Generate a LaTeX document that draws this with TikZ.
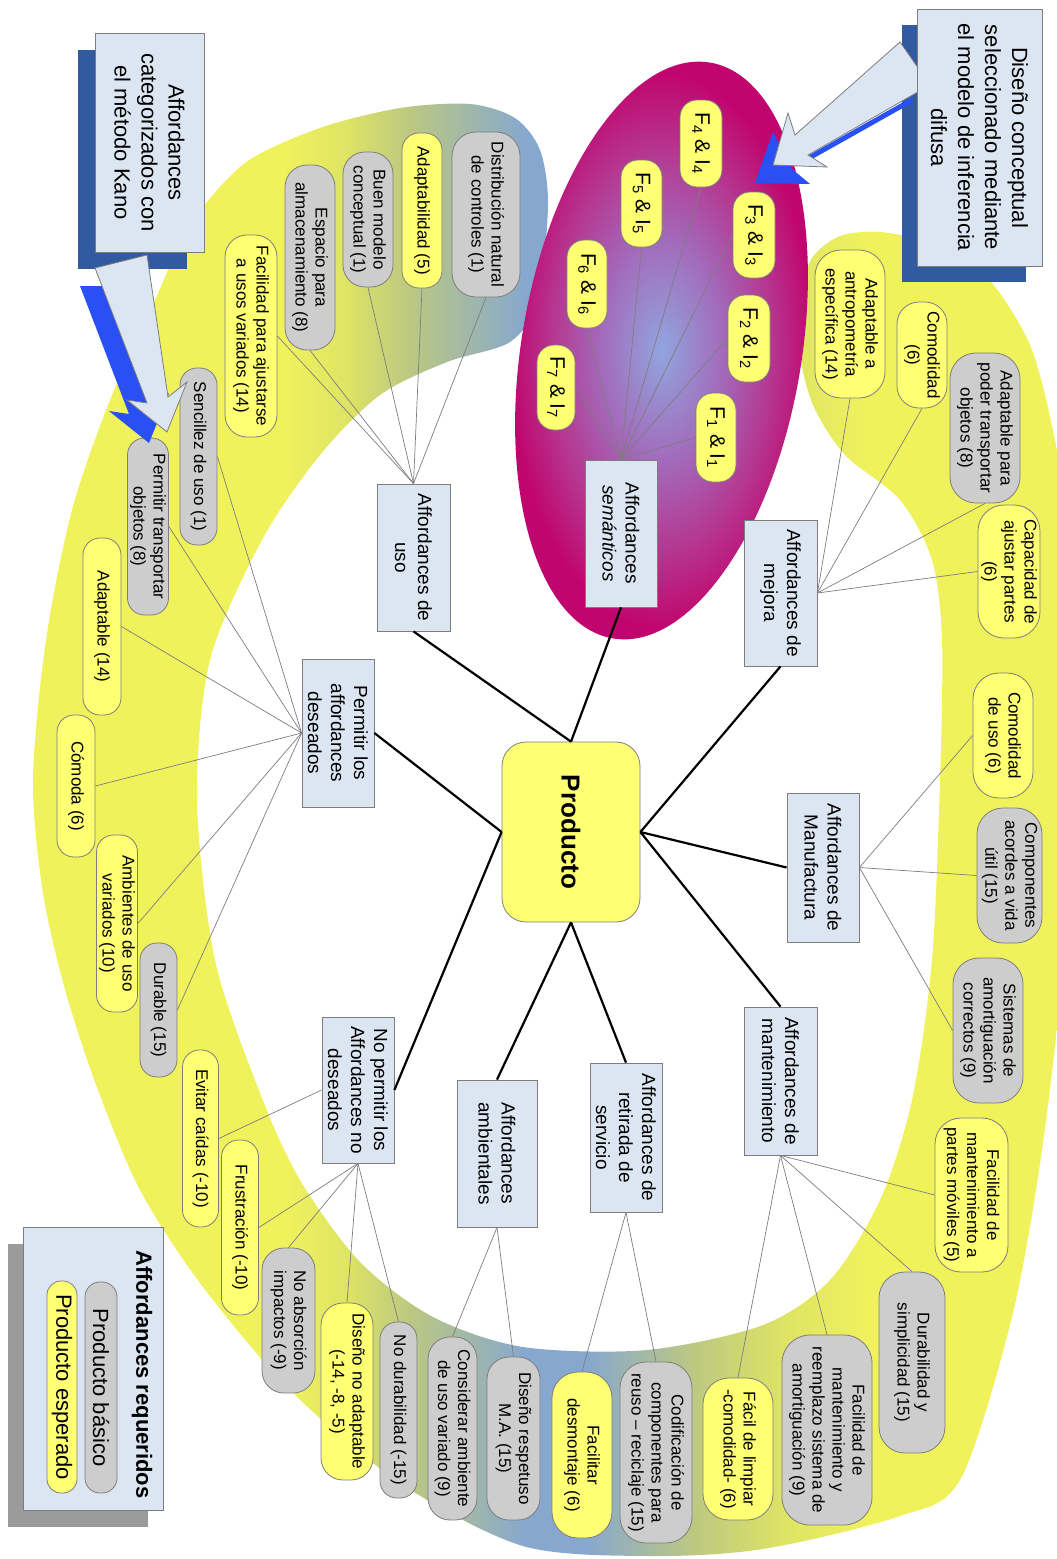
\documentclass[tikz,border=0pt]{standalone}
\usepackage{fontspec}
\setmainfont{Liberation Sans}
\usepackage{tikz}
\usetikzlibrary{calc}

\definecolor{bandY}{RGB}{240,242,92}
\definecolor{bandYG}{RGB}{222,228,100}
\definecolor{bandG}{RGB}{188,200,130}
\definecolor{bandB}{RGB}{135,168,206}
\definecolor{semA}{RGB}{145,165,222}
\definecolor{semB}{RGB}{162,108,188}
\definecolor{semC}{RGB}{182,52,142}
\definecolor{semD}{RGB}{192,6,110}
\definecolor{boxB}{RGB}{220,230,242}
\definecolor{pillY}{RGB}{255,255,115}
\definecolor{pillG}{RGB}{205,205,205}
\definecolor{edgeG}{RGB}{125,125,125}
\definecolor{shadowB}{RGB}{50,90,160}
\definecolor{arrowB}{RGB}{40,80,245}
\definecolor{shadowG}{RGB}{155,155,155}

\pgfdeclarehorizontalshading{bandshade}{100bp}{color(0bp)=(bandY); color(37bp)=(bandY); color(40bp)=(bandYG); color(43bp)=(bandG); color(48.5bp)=(bandB); color(51.5bp)=(bandB); color(56.5bp)=(bandG); color(61bp)=(bandYG); color(65bp)=(bandY); color(100bp)=(bandY)}
\pgfdeclareradialshading{semglow}{\pgfpoint{0bp}{0bp}}{color(0bp)=(semA); color(9bp)=(semB); color(17bp)=(semC); color(23bp)=(semD); color(50bp)=(semD)}

\tikzset{
  leaf/.style={rotate=-90, draw=edgeG, line width=0.8pt, align=center, inner sep=1pt, font=\fontsize{17}{20}\selectfont},
  yleaf/.style={leaf, fill=pillY, rounded corners=#1}, yleaf/.default=17pt,
  gleaf/.style={leaf, fill=pillG, rounded corners=#1}, gleaf/.default=17pt,
  fi/.style={font=\fontsize{21}{24}\selectfont},
  sz/.style 2 args={minimum width=#1pt, minimum height=#2pt},
  cat/.style={rotate=-90, draw=edgeG, fill=boxB, line width=0.8pt, align=center, inner sep=1pt, font=\fontsize{19}{23}\selectfont},
  note/.style={rotate=-90, draw=edgeG, fill=boxB, line width=0.8pt, align=center, inner sep=1pt, font=\fontsize{22}{27}\selectfont},
  hub/.style={line width=2.2pt, black},
  twig/.style={line width=0.7pt, draw=edgeG},
}

\begin{document}
\begin{tikzpicture}[x=1pt, y=-1pt]
\useasboundingbox (0,0) rectangle (1057,1559);

\begin{scope}
\clip (0,0) rectangle (1057,1559);
\shade[shading=bandshade] plot[smooth cycle] coordinates {
  (548,205) (540,150) (515,118) (470,104) (400,108) (320,128) (245,163) (190,225)
  (155,300) (110,400) (72,510) (46,640) (33,780) (43,893) (66,993) (98,1090)
  (140,1190) (200,1283) (290,1390) (400,1483) (523,1546) (650,1556) (763,1549)
  (897,1517) (960,1480) (1012,1317) (1042,1150) (1065,950) (1078,750) (1075,560)
  (1055,440) (1030,345) (985,275) (930,243) (880,232) (840,236) (812,258) (799,300)
  (799,350) (813,405) (845,455) (900,500) (932,560) (942,640) (940,780) (932,960)
  (912,1100) (880,1200) (830,1280) (763,1325) (647,1350) (523,1347) (433,1317)
  (360,1262) (300,1180) (260,1093) (215,960) (197,800) (210,660) (262,540)
  (320,455) (380,395) (447,362) (510,342) (538,300)};
\end{scope}
\shade[shading=semglow, rotate around={-9.6:(661.5,350.5)}] (661.5,350.5) ellipse [x radius=140, y radius=292];

\node[rotate=-90, draw=edgeG, fill=pillY, line width=0.8pt, rounded corners=24pt, sz={180}{138}, font=\fontsize{26}{30}\selectfont\bfseries] (prod) at (571,832) {Producto};

\node[cat, sz={147}{73}] (uso) at (413.5,557.5) {Affordances de\\uso};
\node[cat, sz={147}{72}] (sem) at (621,533.5) {Affordances\\\textit{semánticos}};
\node[cat, sz={146}{73}] (mejora) at (780.5,593) {Affordances de\\mejora};
\node[cat, sz={149}{72}] (manuf) at (823,867.5) {Affordances de\\Manufactura};
\node[cat, sz={148}{73}] (mant) at (780.5,1081) {Affordances de\\mantenimiento};
\node[cat, sz={149}{72}] (retiro) at (626,1137.5) {Affordances de\\retirada de\\servicio};
\node[cat, sz={147}{80}] (amb) at (497,1153.5) {Affordances\\ambientales};
\node[cat, sz={146}{72}] (noperm) at (358,1090) {No permitir los\\Affordances no\\deseados};
\node[cat, sz={148}{72}] (perm) at (338,733) {Permitir los\\affordances\\deseados};

\node[gleaf=24pt, sz={165}{68}] (dist) at (486,214.5) {Distribución natural\\de controles (1)};
\node[yleaf, sz={155}{40}] (adapt5) at (422,210.5) {Adaptabilidad (5)};
\node[gleaf=22pt, sz={135}{50}] (buen) at (368,219.5) {Buen modelo\\conceptual (1)};
\node[gleaf=22pt, sz={185}{50}] (espacio) at (310,257.5) {Espacio para\\almacenamiento (8)};
\node[yleaf=22pt, sz={202}{52}] (ajuste) at (251,336) {Facilidad para ajustarse\\a usos variados (14)};

\node[gleaf, sz={177}{37}] (sencillez) at (198.5,456.5) {Sencillez de uso (1)};
\node[gleaf, sz={177}{41}] (transp) at (148,526.5) {Permitir transportar\\objetos (8)};
\node[yleaf, sz={177}{38}] (adapt14) at (102,626.5) {Adaptable (14)};
\node[yleaf, sz={142}{38}] (comoda) at (76,786) {Cómoda (6)};
\node[yleaf, sz={177}{41}] (ambientes) at (117,923.5) {Ambientes de uso\\variados (10)};
\node[gleaf, sz={134}{37}] (durable) at (158.5,1010) {Durable (15)};

\node[yleaf, sz={177}{36}] (evitar) at (200.5,1138.5) {Evitar caídas (-10)};
\node[yleaf, sz={175}{37}] (frust) at (240,1227.5) {Frustración (-10)};
\node[gleaf=22pt, sz={145}{53}] (absorc) at (288.5,1320.5) {No absorción\\impactos (-9)};
\node[yleaf=22pt, sz={177}{52}] (noadapt) at (347,1391.5) {Diseño no adaptable\\(-14, -8, -5)};
\node[gleaf, sz={176}{37}] (nodurab) at (398.5,1410) {No durabilidad (-15)};

\node[gleaf=22pt, sz={183}{49}] (consid) at (452.5,1428.5) {Considerar ambiente\\de uso variado (9)};
\node[gleaf=22pt, sz={163}{53}] (respet) at (513.5,1438.5) {Diseño respetuso\\M.A. (15)};

\node[yleaf=26pt, sz={166}{60}] (desmont) at (582,1455) {Facilitar\\desmontaje (6)};
\node[gleaf=26pt, sz={181}{72}] (codif) at (656,1452.5) {Codificación de\\componentes para\\reuso -- reciclaje (15)};

\node[yleaf=26pt, sz={142}{70}] (limpiar) at (738,1449) {Fácil de limpiar\\-comodidad- (6)};
\node[gleaf=28pt, sz={190}{90}] (reempl) at (827,1430) {Facilidad de\\mantenimiento y\\reemplazo sistema de\\amortiguación (9)};
\node[gleaf=26pt, sz={181}{66}] (simplic) at (912,1362.5) {Durabilidad y\\simplicidad (15)};
\node[yleaf=26pt, sz={154}{73}] (moviles) at (971.5,1195) {Facilidad de\\mantenimiento a\\partes móviles (5)};

\node[yleaf=26pt, sz={125}{60}] (comuso) at (1003,735.5) {Comodidad\\de uso (6)};
\node[gleaf=26pt, sz={135}{65}] (compon) at (1009.5,875.5) {Componentes\\acordes a vida\\útil (15)};
\node[gleaf=26pt, sz={145}{70}] (amortig) at (988,1030.5) {Sistemas de\\amortiguación\\correctos (9)};

\node[yleaf=26pt, sz={148}{70}] (antrop) at (850,324) {Adaptable a\\antropometría\\específica (14)};
\node[yleaf=22pt, sz={106}{50}] (comod6) at (922,355) {Comodidad\\(6)};
\node[gleaf=26pt, sz={150}{70}] (transp8) at (985,428) {Adaptable para\\poder transportar\\objetos (8)};
\node[yleaf=26pt, sz={133}{62}] (ajustar) at (1009,571.5) {Capacidad de\\ajustar partes\\(6)};

\node[yleaf, fi, sz={89}{40}] (f1) at (716,437.5) {F\textsubscript{1} \& I\textsubscript{1}};
\node[yleaf, fi, sz={87}{42}] (f2) at (749,338.5) {F\textsubscript{2} \& I\textsubscript{2}};
\node[yleaf, fi, sz={86}{42}] (f3) at (754,235) {F\textsubscript{3} \& I\textsubscript{3}};
\node[yleaf, fi, sz={87}{42}] (f4) at (701,143.5) {F\textsubscript{4} \& I\textsubscript{4}};
\node[yleaf, fi, sz={87}{41}] (f5) at (641.5,203.5) {F\textsubscript{5} \& I\textsubscript{5}};
\node[yleaf, fi, sz={88}{40}] (f6) at (587,284) {F\textsubscript{6} \& I\textsubscript{6}};
\node[yleaf, fi, sz={85}{38}] (f7) at (556,387.5) {F\textsubscript{7} \& I\textsubscript{7}};

\draw[hub] (uso.east) -- (prod.west);
\draw[hub] (sem.east) -- (prod.west);
\draw[hub] (mejora.east) -- (prod.north);
\draw[hub] (manuf.south) -- (prod.north);
\draw[hub] (mant.west) -- (prod.north);
\draw[hub] (retiro.west) -- (prod.east);
\draw[hub] (amb.west) -- (prod.east);
\draw[hub] (noperm.north) -- (prod.south);
\draw[hub] (perm.north) -- (prod.south);

\draw[twig] (uso.west) -- (dist.east);
\draw[twig] (uso.west) -- (adapt5.east);
\draw[twig] (uso.west) -- (buen.east);
\draw[twig] (uso.west) -- (espacio.east);
\draw[twig] (uso.west) -- (ajuste.north);
\draw[twig] (perm.south) -- (sencillez.north);
\draw[twig] (perm.south) -- (transp.north);
\draw[twig] (perm.south) -- (adapt14.north);
\draw[twig] (perm.south) -- (comoda.north);
\draw[twig] (perm.south) -- (ambientes.north);
\draw[twig] (perm.south) -- (durable.north);
\draw[twig] (noperm.south) -- (evitar.north);
\draw[twig] (noperm.east) -- (frust.north);
\draw[twig] (noperm.east) -- (absorc.west);
\draw[twig] (noperm.east) -- (noadapt.west);
\draw[twig] (noperm.east) -- (nodurab.west);
\draw[twig] (amb.east) -- (consid.west);
\draw[twig] (amb.east) -- (respet.west);
\draw[twig] (retiro.east) -- (desmont.west);
\draw[twig] (retiro.east) -- (codif.west);
\draw[twig] (mant.east) -- (limpiar.west);
\draw[twig] (mant.east) -- (reempl.west);
\draw[twig] (mant.east) -- (simplic.west);
\draw[twig] (mant.east) -- (moviles.south);
\draw[twig] (manuf.north) -- (comuso.south);
\draw[twig] (manuf.north) -- (compon.south);
\draw[twig] (manuf.north) -- (amortig.south);
\draw[twig] (mejora.north) -- (antrop.east);
\draw[twig] (mejora.north) -- (comod6.east);
\draw[twig] (mejora.north) -- (transp8.east);
\draw[twig] (mejora.north) -- (ajustar.south);
\draw[twig] (sem.west) -- (f1.south);
\draw[twig] (sem.west) -- (f2.south);
\draw[twig] (sem.west) -- (f3.south);
\draw[twig] (sem.west) -- (f4.east);
\draw[twig] (sem.west) -- (f5.east);
\draw[twig] (sem.west) -- (f6.east);
\draw[twig] (sem.west) -- (f7.north);

\fill[arrowB] (80,286) -- (129,414) -- (109,411) -- (149,443) -- (169,393) -- (150,408) -- (132,286) -- cycle;
\node[rotate=-90, fill=shadowB, sz={219}{109}] (kanoshadow) at (132.5,159) {};
\draw[edgeG, fill=boxB, line width=0.8pt] (95,268) -- (147,403) -- (127,400) -- (167,432) -- (187,382) -- (168,397) -- (147,255) -- cycle;
\node[note, sz={219}{109}] (kano) at (149.5,142.5) {Affordances\\categorizados con\\el método Kano};

\node[rotate=-90, fill=shadowB, sz={257}{124}] (difshadow) at (964,153.5) {};
\draw[arrowB, line width=5pt] (912,100) -- (800,163);
\fill[arrowB] (773,132) -- (755,183) -- (810,184) -- (792,169) -- cycle;
\draw[edgeG, fill=boxB, line width=0.8pt] (900,42) -- (795,135) -- (788,113) -- (773,165) -- (827,167) -- (808,155) -- (930,85) -- cycle;
\node[note, sz={257}{125}] (difusa) at (979.5,137.5) {Diseño conceptual\\seleccionado mediante\\el modelo de inferencia\\difusa};

\node[rotate=-90, fill=shadowG, sz={283}{140}] (legshadow) at (78,1385) {};
\node[rotate=-90, draw=edgeG, fill=boxB, line width=0.8pt, sz={283}{140}] (legend) at (93,1368.5) {};
\node[rotate=-90, font=\fontsize{22}{26}\selectfont\bfseries] (legtitle) at (142,1374.5) {Affordances requeridos};
\node[leaf, fill=pillG, rounded corners=15pt, inner sep=0pt, font=\fontsize{22}{26}\selectfont, sz={211}{32}] (legbasic) at (101,1387.5) {Producto básico};
\node[leaf, fill=pillY, rounded corners=14pt, inner sep=0pt, font=\fontsize{22}{26}\selectfont, sz={212}{30}] (legexp) at (62,1387) {Producto esperado};
\end{tikzpicture}
\end{document}
